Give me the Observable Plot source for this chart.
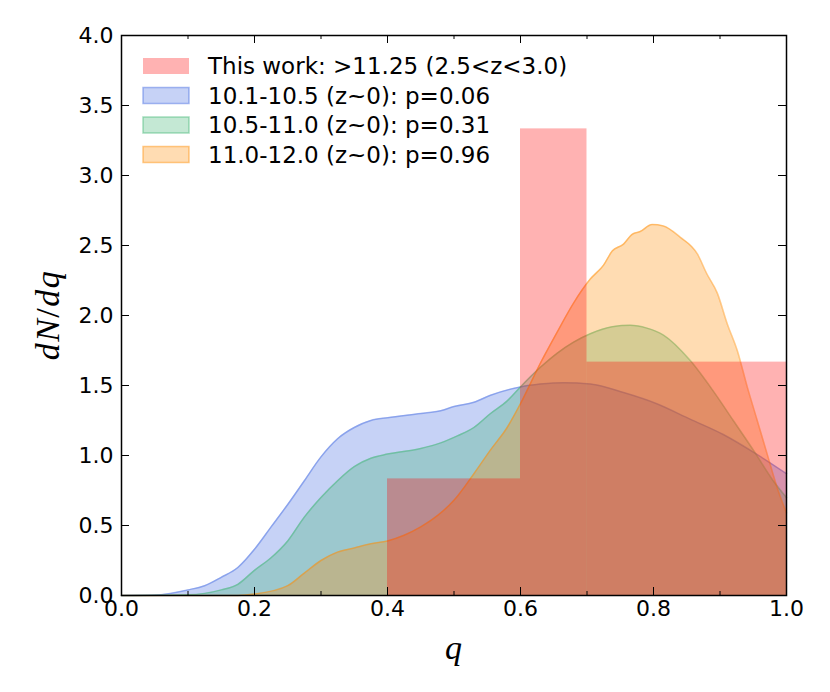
<!DOCTYPE html>
<html>
<head>
<meta charset="utf-8">
<script src="https://cdn.jsdelivr.net/npm/d3@7"></script>
<script src="https://cdn.jsdelivr.net/npm/@observablehq/plot@0.6"></script>
<style>
  html, body { margin: 0; padding: 0; background: #fff; }
</style>
</head>
<body>
<div id="chart"></div>
<script>
// ---- Data ----
const histEdges = [0.4, 0.6, 0.7, 1.0];
const histValues = [0.833, 3.333, 1.667];

const blueQ = [0, 0.05, 0.1, 0.125, 0.15, 0.175, 0.2, 0.225, 0.25, 0.275, 0.3, 0.325, 0.35, 0.375, 0.4, 0.45, 0.48, 0.5, 0.53, 0.555, 0.6, 0.63, 0.665, 0.705, 0.755, 0.805, 0.855, 0.905, 0.955, 1.0];
const blueV = [0, 0.003, 0.04, 0.07, 0.13, 0.2, 0.33, 0.49, 0.65, 0.82, 0.99, 1.12, 1.2, 1.25, 1.27, 1.3, 1.32, 1.35, 1.38, 1.43, 1.49, 1.51, 1.52, 1.51, 1.45, 1.37, 1.26, 1.15, 1.01, 0.87];

const greenQ = [0, 0.1, 0.15, 0.175, 0.2, 0.225, 0.25, 0.275, 0.3, 0.325, 0.35, 0.375, 0.4, 0.45, 0.48, 0.505, 0.53, 0.555, 0.58, 0.6, 0.63, 0.655, 0.68, 0.705, 0.738, 0.765, 0.79, 0.815, 0.855, 0.89, 0.92, 0.95, 0.98, 1.0];
const greenV = [0, 0.005, 0.04, 0.08, 0.18, 0.27, 0.39, 0.56, 0.70, 0.82, 0.92, 0.98, 1.01, 1.05, 1.09, 1.14, 1.2, 1.3, 1.39, 1.49, 1.63, 1.73, 1.81, 1.87, 1.92, 1.93, 1.91, 1.86, 1.68, 1.46, 1.25, 1.04, 0.82, 0.70];

const orangeQ = [0, 0.175, 0.2, 0.25, 0.275, 0.3, 0.325, 0.35, 0.375, 0.4, 0.425, 0.45, 0.475, 0.5, 0.53, 0.555, 0.58, 0.6, 0.63, 0.655, 0.68, 0.705, 0.725, 0.738, 0.755, 0.768, 0.78, 0.798, 0.815, 0.84, 0.866, 0.88, 0.896, 0.911, 0.926, 0.941, 0.956, 0.971, 0.986, 1.0];
const orangeV = [0, 0, 0.01, 0.07, 0.16, 0.25, 0.31, 0.34, 0.37, 0.39, 0.43, 0.49, 0.57, 0.68, 0.87, 1.04, 1.2, 1.37, 1.66, 1.88, 2.09, 2.26, 2.36, 2.46, 2.51, 2.58, 2.6, 2.65, 2.64, 2.56, 2.44, 2.30, 2.16, 1.94, 1.75, 1.49, 1.25, 1.01, 0.77, 0.59];

const legendLabels = [
  "This work: >11.25 (2.5<z<3.0)",
  "10.1-10.5 (z~0): p=0.06",
  "10.5-11.0 (z~0): p=0.31",
  "11.0-12.0 (z~0): p=0.96"
];
const xTickLabels = [0, 0.2, 0.4, 0.6, 0.8, 1.0];
const xMinorTicks = [0.1, 0.3, 0.5, 0.7, 0.9];
const yTickLabels = [0, 0.5, 1.0, 1.5, 2.0, 2.5, 3.0, 3.5, 4.0];

// ---- Styles ----
const cRed = "rgb(255,0,0)";
const cBlue = "rgb(65,105,225)";
const cGreen = "rgb(60,179,113)";
const cOrange = "rgb(255,140,0)";
const fillA = 0.3, strokeA = 0.45;

const hist = histValues.map((v, i) => ({x1: histEdges[i], x2: histEdges[i + 1], y: v}));
const toRows = (qs, vs) => qs.map((q, i) => ({q, v: vs[i]}));
const blue = toRows(blueQ, blueV);
const green = toRows(greenQ, greenV);
const orange = toRows(orangeQ, orangeV);

const W = 830, H = 692, ML = 121, MR = 44, MT = 35, MB = 97;
const frameW = W - ML - MR, frameH = H - MT - MB;
const majorLen = 8, minorLen = 4;

const curve = "monotone-x";
const series = [[blue, cBlue], [green, cGreen], [orange, cOrange]];

const marks = [];
for (const [data, c] of series) {
  marks.push(Plot.areaY(data, {x: "q", y: "v", fill: c, fillOpacity: fillA, curve}));
  marks.push(Plot.lineY(data, {x: "q", y: "v", stroke: c, strokeOpacity: strokeA, strokeWidth: 1.5, curve}));
}
marks.push(Plot.rectY(hist, {x1: "x1", x2: "x2", y: "y", fill: cRed, fillOpacity: fillA}));
// inward ticks on all four sides
marks.push(
  Plot.tickX(xTickLabels, {x: d => d, insetTop: frameH - majorLen, stroke: "black", strokeWidth: 1}),
  Plot.tickX(xTickLabels, {x: d => d, insetBottom: frameH - majorLen, stroke: "black", strokeWidth: 1}),
  Plot.tickX(xMinorTicks, {x: d => d, insetTop: frameH - minorLen, stroke: "black", strokeWidth: 1}),
  Plot.tickX(xMinorTicks, {x: d => d, insetBottom: frameH - minorLen, stroke: "black", strokeWidth: 1}),
  Plot.tickY(yTickLabels, {y: d => d, insetRight: frameW - majorLen, stroke: "black", strokeWidth: 1}),
  Plot.tickY(yTickLabels, {y: d => d, insetLeft: frameW - majorLen, stroke: "black", strokeWidth: 1}),
  Plot.axisX({ticks: xTickLabels, tickFormat: d3.format(".1f"), tickSize: 0, tickPadding: 5, label: null, fontSize: 22}),
  Plot.axisY({ticks: yTickLabels, tickFormat: d3.format(".1f"), tickSize: 0, tickPadding: 8, label: null, fontSize: 22}),
  Plot.frame({stroke: "black", strokeWidth: 1.5})
);

const chart = Plot.plot({
  width: W, height: H,
  marginLeft: ML, marginRight: MR, marginTop: MT, marginBottom: MB,
  x: {domain: [0, 1]},
  y: {domain: [0, 4]},
  style: {fontFamily: "DejaVu Sans", fontSize: "22px", color: "black", background: "white", overflow: "visible"},
  marks
});

const svg = d3.select(chart);

// axis labels
svg.append("text")
  .attr("x", ML + frameW / 2).attr("y", 659)
  .attr("text-anchor", "middle")
  .attr("font-family", "Liberation Serif").attr("font-style", "italic").attr("font-size", 34)
  .attr("fill", "black")
  .text("q");

const yl = svg.append("text")
  .attr("transform", `translate(59,${MT + frameH / 2}) rotate(-90)`)
  .attr("text-anchor", "middle")
  .attr("font-family", "Liberation Serif").attr("font-size", 34)
  .attr("letter-spacing", 1.5)
  .attr("fill", "black");
yl.append("tspan").attr("font-style", "italic").text("dN");
yl.append("tspan").text("/");
yl.append("tspan").attr("font-style", "italic").text("dq");

// legend
const legendColors = [cRed, cBlue, cGreen, cOrange];
const lg = svg.append("g").attr("font-family", "DejaVu Sans").attr("font-size", 23).attr("text-anchor", "start");
legendLabels.forEach((lab, i) => {
  const cy = 66 + i * 29.5;
  lg.append("rect")
    .attr("x", 143).attr("y", cy - 8).attr("width", 46).attr("height", 16)
    .attr("fill", legendColors[i]).attr("fill-opacity", fillA)
    .attr("stroke", i === 0 ? "none" : legendColors[i]).attr("stroke-opacity", strokeA).attr("stroke-width", 1.5);
  lg.append("text")
    .attr("x", 208).attr("y", cy + 8)
    .attr("text-anchor", "start")
    .attr("fill", "black")
    .text(lab);
});

document.getElementById("chart").appendChild(chart);
</script>
</body>
</html>
